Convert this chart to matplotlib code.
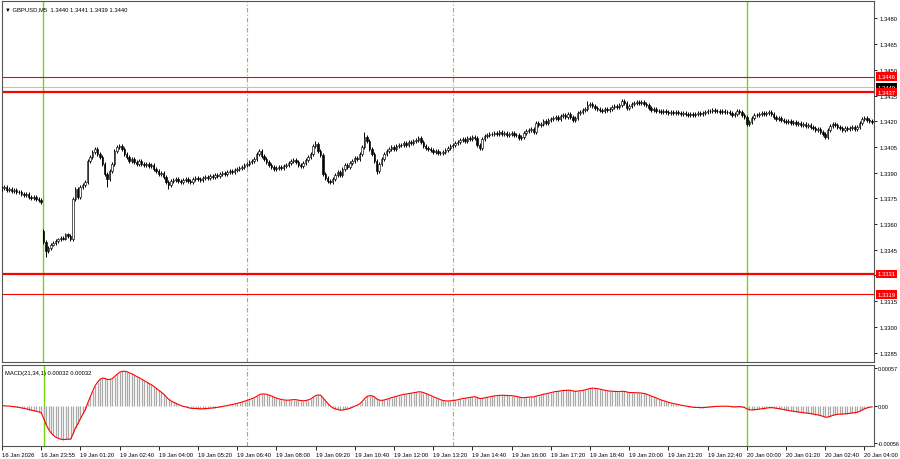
import numpy as np
import pandas as pd
import matplotlib
matplotlib.use('Agg')
import matplotlib.pyplot as plt
from matplotlib.transforms import blended_transform_factory

# --- DATA (GBPUSD M5) ---
SYMBOL_HEADER = "\u25bc GBPUSD,M5  1.3440 1.3441 1.3439 1.3440"
MACD_HEADER = "MACD(21,34,1) 0.00032 0.00032"

first_open = 1.33805
monday_open = 1.33560      # weekend gap, 19 Jan 00:05 bar
monday_bar = 17

# closes, bar 0 = 16 Jan 22:35, one bar every 5 minutes
closes = [
    1.33810, 1.33816, 1.33799, 1.33805, 1.33793, 1.33799, 1.33787, 1.33787, 1.33775, 1.33770,  # 0
    1.33775, 1.33758, 1.33752, 1.33758, 1.33746, 1.33740, 1.33729, 1.33495, 1.33440, 1.33460,  # 10
    1.33480, 1.33490, 1.33500, 1.33510, 1.33520, 1.33515, 1.33540, 1.33530, 1.33510, 1.33746,  # 20
    1.33805, 1.33758, 1.33816, 1.33828, 1.33846, 1.33968, 1.33992, 1.34021, 1.34038, 1.34009,  # 30
    1.33992, 1.33951, 1.33892, 1.33863, 1.33910, 1.33951, 1.34027, 1.34050, 1.34056, 1.34038,  # 40
    1.34009, 1.33992, 1.33968, 1.33980, 1.33962, 1.33951, 1.33968, 1.33951, 1.33945, 1.33951,  # 50
    1.33939, 1.33945, 1.33921, 1.33910, 1.33892, 1.33898, 1.33875, 1.33846, 1.33828, 1.33851,  # 60
    1.33857, 1.33863, 1.33851, 1.33846, 1.33857, 1.33863, 1.33851, 1.33846, 1.33863, 1.33869,  # 70
    1.33863, 1.33857, 1.33869, 1.33875, 1.33869, 1.33881, 1.33875, 1.33886, 1.33881, 1.33892,  # 80
    1.33898, 1.33892, 1.33904, 1.33910, 1.33904, 1.33916, 1.33921, 1.33927, 1.33933, 1.33945,  # 90
    1.33951, 1.33962, 1.33968, 1.33980, 1.34009, 1.34027, 1.33997, 1.33980, 1.33962, 1.33945,  # 100
    1.33933, 1.33921, 1.33927, 1.33933, 1.33927, 1.33939, 1.33945, 1.33956, 1.33968, 1.33974,  # 110
    1.33962, 1.33945, 1.33939, 1.33956, 1.33974, 1.33992, 1.34009, 1.34056, 1.34067, 1.34027,  # 120
    1.34003, 1.33892, 1.33869, 1.33851, 1.33846, 1.33863, 1.33886, 1.33904, 1.33886, 1.33921,  # 130
    1.33945, 1.33933, 1.33956, 1.33968, 1.33986, 1.33980, 1.34009, 1.34050, 1.34108, 1.34085,  # 140
    1.34038, 1.34009, 1.33968, 1.33910, 1.33951, 1.33980, 1.34009, 1.34027, 1.34038, 1.34050,  # 150
    1.34038, 1.34056, 1.34062, 1.34062, 1.34073, 1.34062, 1.34079, 1.34073, 1.34085, 1.34091,  # 160
    1.34102, 1.34079, 1.34056, 1.34044, 1.34038, 1.34032, 1.34021, 1.34027, 1.34015, 1.34015,  # 170
    1.34021, 1.34032, 1.34044, 1.34056, 1.34062, 1.34073, 1.34079, 1.34091, 1.34097, 1.34085,  # 180
    1.34102, 1.34097, 1.34108, 1.34102, 1.34062, 1.34044, 1.34097, 1.34114, 1.34120, 1.34126,  # 190
    1.34126, 1.34132, 1.34126, 1.34137, 1.34126, 1.34132, 1.34120, 1.34126, 1.34132, 1.34120,  # 200
    1.34120, 1.34102, 1.34108, 1.34132, 1.34143, 1.34149, 1.34155, 1.34137, 1.34190, 1.34178,  # 210
    1.34184, 1.34202, 1.34190, 1.34207, 1.34213, 1.34219, 1.34225, 1.34213, 1.34231, 1.34237,  # 220
    1.34225, 1.34242, 1.34225, 1.34207, 1.34219, 1.34248, 1.34254, 1.34266, 1.34272, 1.34295,  # 230
    1.34301, 1.34289, 1.34278, 1.34272, 1.34266, 1.34260, 1.34272, 1.34266, 1.34272, 1.34283,  # 240
    1.34289, 1.34283, 1.34295, 1.34318, 1.34307, 1.34278, 1.34289, 1.34301, 1.34307, 1.34313,  # 250
    1.34307, 1.34313, 1.34301, 1.34295, 1.34278, 1.34266, 1.34272, 1.34260, 1.34260, 1.34254,  # 260
    1.34260, 1.34254, 1.34248, 1.34254, 1.34248, 1.34254, 1.34248, 1.34242, 1.34248, 1.34242,  # 270
    1.34237, 1.34242, 1.34237, 1.34242, 1.34248, 1.34242, 1.34248, 1.34254, 1.34260, 1.34260,  # 280
    1.34266, 1.34260, 1.34260, 1.34254, 1.34260, 1.34254, 1.34254, 1.34248, 1.34237, 1.34242,  # 290
    1.34260, 1.34254, 1.34237, 1.34225, 1.34184, 1.34196, 1.34219, 1.34237, 1.34237, 1.34242,  # 300
    1.34248, 1.34242, 1.34248, 1.34254, 1.34242, 1.34225, 1.34213, 1.34219, 1.34207, 1.34202,  # 310
    1.34196, 1.34202, 1.34190, 1.34196, 1.34184, 1.34190, 1.34178, 1.34184, 1.34172, 1.34178,  # 320
    1.34167, 1.34161, 1.34149, 1.34155, 1.34137, 1.34126, 1.34108, 1.34149, 1.34172, 1.34184,  # 330
    1.34178, 1.34167, 1.34161, 1.34149, 1.34161, 1.34155, 1.34161, 1.34167, 1.34155, 1.34167,  # 340
    1.34190, 1.34213, 1.34219, 1.34207, 1.34202, 1.34196,                                      # 350
]

# shadows that stick out further than the usual wick
spike_highs = {17: 1.33565, 38: 1.34050, 48: 1.34067, 105: 1.34038, 128: 1.34085,
               148: 1.34137, 239: 1.34318, 253: 1.34330}
spike_lows = {18: 1.33408, 43: 1.33816, 68: 1.33805, 134: 1.33834, 153: 1.33892,
              336: 1.34097}

levels = [1.3446, 1.3437, 1.3331, 1.3319]
level_labels = ["1.3446", "1.3437", "1.3331", "1.3319"]
bid_price = 1.3440
bid_label = "1.3440"

price_ticks = [1.3285, 1.3300, 1.3315, 1.3330, 1.3345, 1.3360, 1.3375,
               1.3390, 1.3405, 1.3420, 1.3435, 1.3450, 1.3465, 1.3480]
price_tick_labels = ["1.3285", "1.3300", "1.3315", "1.3330", "1.3345", "1.3360", "1.3375",
                     "1.3390", "1.3405", "1.3420", "1.3435", "1.3450", "1.3465", "1.3480"]

time_labels = ["16 Jan 2026", "16 Jan 23:55", "19 Jan 01:20", "19 Jan 02:40", "19 Jan 04:00",
               "19 Jan 05:20", "19 Jan 06:40", "19 Jan 08:00", "19 Jan 09:20", "19 Jan 10:40",
               "19 Jan 12:00", "19 Jan 13:20", "19 Jan 14:40", "19 Jan 16:00", "19 Jan 17:20",
               "19 Jan 18:40", "19 Jan 20:00", "19 Jan 21:20", "19 Jan 22:40", "20 Jan 00:00",
               "20 Jan 01:20", "20 Jan 02:40", "20 Jan 04:00"]
time_tick_bars = [16 * k for k in range(len(time_labels))]

macd_ticks = [-0.00056, 0.0, 0.00057]
macd_tick_labels = ["-0.00056", "0.00", "0.00057"]

day_bars = [17, 304]        # day separators (solid)
session_bars = [100, 184]   # session opens (dash-dot)

# --- STYLE ---
W, H = 900, 460
WICK = 0.00010
BODY_W = 0.6
GREEN = '#74d60c'
FRAME = '#555555'
FS = 4.2

plt.rcParams['font.family'] = ['Liberation Sans', 'DejaVu Sans']


def px_axes(fig, left, top, right, bottom):
    return fig.add_axes([left / W, 1 - bottom / H, (right - left) / W, (bottom - top) / H])


def main():
    n = len(closes)
    x = np.arange(n)
    c = np.array(closes)
    o = np.concatenate([[first_open], c[:-1]])
    o[monday_bar] = monday_open
    hi = np.maximum(o, c) + WICK
    lo = np.minimum(o, c) - WICK
    for k, v in spike_highs.items():
        hi[k] = max(hi[k], v)
    for k, v in spike_lows.items():
        lo[k] = min(lo[k], v)

    # MACD(21,34,1): signal over 1 bar is the main line itself
    s = pd.Series(closes)
    macd = (s.ewm(span=21, adjust=False).mean() - s.ewm(span=34, adjust=False).mean()).values

    fig = plt.figure(figsize=(W / 100, H / 100), dpi=100)
    ax = px_axes(fig, 2, 2, 874, 363)
    am = px_axes(fig, 2, 365.5, 874, 447)

    # candles
    ax.vlines(x, lo, hi, color='black', lw=0.7, zorder=3)
    up = c >= o
    ax.bar(x[up], (c - o)[up], bottom=o[up], width=BODY_W, color='white',
           edgecolor='black', lw=0.45, zorder=4)
    ax.bar(x[~up], (o - c)[~up], bottom=c[~up], width=BODY_W, color='black',
           edgecolor='black', lw=0.45, zorder=4)

    # levels
    tr = blended_transform_factory(ax.transAxes, ax.transData)
    widths = [0.8, 1.6, 1.6, 0.8]
    for lv, lab, lw in zip(levels, level_labels, widths):
        ax.axhline(lv, color='#ff0000', lw=lw, zorder=2)
        ax.text(1.004, lv, lab, transform=tr, ha='left', va='center', fontsize=FS,
                color='white', clip_on=False, zorder=6,
                bbox=dict(boxstyle='square,pad=0.3', fc='#ff0000', ec='none'))
    ax.axhline(bid_price, color='#c0c0c0', lw=0.8, zorder=1)
    ax.text(1.004, bid_price, bid_label, transform=tr, ha='left', va='center', fontsize=FS,
            color='white', clip_on=False, zorder=5,
            bbox=dict(boxstyle='square,pad=0.3', fc='black', ec='none'))

    # MACD
    am.vlines(x, 0, macd, color='#aaaaaa', lw=0.9)
    am.plot(x, macd, color='#ff0000', lw=0.8)

    for a in (ax, am):
        for b in day_bars:
            a.axvline(b, color=GREEN, lw=1.0, zorder=1)
        for b in session_bars:
            a.axvline(b, color=GREEN, lw=0.8, ls=(0, (4, 2, 1, 2)), zorder=1)
        a.set_xlim(0.1, 355.9)
        a.yaxis.tick_right()
        a.tick_params(axis='y', labelsize=FS, length=2.5, width=0.6, pad=1.2, colors='black')
        for sp in a.spines.values():
            sp.set_color(FRAME)
            sp.set_linewidth(0.8)

    ax.set_ylim(1.32795, 1.34902)
    ax.set_yticks(price_ticks)
    ax.set_yticklabels(price_tick_labels)
    ax.set_xticks([])

    am.set_ylim(-0.00061, 0.00063)
    am.set_yticks(macd_ticks)
    am.set_yticklabels(macd_tick_labels)
    am.tick_params(axis='y', labelsize=4.0, length=2, pad=0.8)
    am.set_xticks(time_tick_bars)
    am.set_xticklabels(time_labels, ha='left')
    am.tick_params(axis='x', labelsize=FS, length=3, width=0.6, pad=1.5)

    ax.text(0.003, 0.985, SYMBOL_HEADER, transform=ax.transAxes, ha='left', va='top',
            fontsize=FS, color='black')
    am.text(0.003, 0.93, MACD_HEADER, transform=am.transAxes, ha='left', va='top',
            fontsize=FS, color='black')

    fig.savefig('out.png', dpi=100)


if __name__ == '__main__':
    main()
